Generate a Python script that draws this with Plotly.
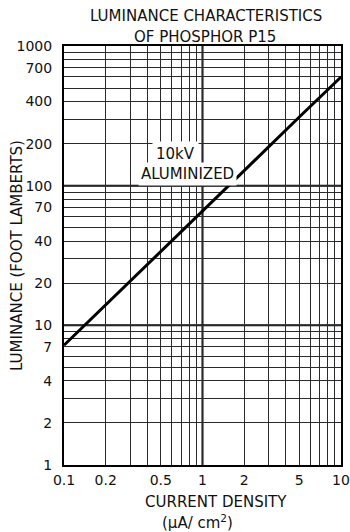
import plotly.graph_objects as go

# ---- data ----
current_density = [0.1, 0.2, 0.5, 1, 2, 5, 10]          # µA/cm²
luminance = [7.2, 14, 34, 65, 128, 310, 600]            # foot lamberts

x_labeled = [0.1, 0.2, 0.5, 1, 2, 5, 10]
y_labeled = [1, 2, 4, 7, 10, 20, 40, 70, 100, 200, 400, 700, 1000]

x_grid = [round(m * d, 6) for d in (0.1, 1) for m in range(1, 10)] + [10]
y_grid = [round(m * d, 6) for d in (1, 10, 100) for m in range(1, 10)] + [1000]
emphasis_x = [1]
emphasis_y = [10, 100]

def fmt(v):
    return ("%g" % v)

x_text = [fmt(v) if v in x_labeled else "" for v in x_grid]
y_text = [fmt(v) if v in y_labeled else "" for v in y_grid]

FONT = "DejaVu Sans"
INK = "#111111"

W, H = 350, 532
PL, PR, PT, PB = 64, 341, 46, 465      # plot frame in pixels
L, T, R, B = PL, PT, W - PR, H - PB
pw, ph = PR - PL, PB - PT

def px(xs):
    return (xs - PL) / pw

def py(ys):
    return (PB - ys) / ph

fig = go.Figure()
fig.add_trace(go.Scatter(
    x=current_density, y=luminance, mode="lines",
    line=dict(color="black", width=3), showlegend=False, hoverinfo="skip"))

axis_common = dict(
    type="log", showgrid=True, gridcolor="#2a2a2a", gridwidth=1,
    showline=True, linecolor="black", linewidth=2, mirror=True,
    ticks="", tickfont=dict(family=FONT, size=14, color=INK),
    zeroline=False, layer="below traces", automargin=False,
    ticklabeloverflow="allow",
)

fig.update_xaxes(range=[-1, 1], tickvals=x_grid, ticktext=x_text,
                 tickangle=0, ticklabelstandoff=1, **axis_common)
fig.update_yaxes(range=[0, 3], tickvals=y_grid, ticktext=y_text,
                 ticklabelstandoff=7, **axis_common)

shapes = []
for v in emphasis_x:
    shapes.append(dict(type="line", xref="x", yref="paper", x0=v, x1=v, y0=0, y1=1,
                       line=dict(color="black", width=2), layer="below"))
for v in emphasis_y:
    shapes.append(dict(type="line", xref="paper", yref="y", x0=0, x1=1, y0=v, y1=v,
                       line=dict(color="black", width=2), layer="below"))

def note(text, x, y, size=14, **kw):
    d = dict(text=text, x=x, y=y, xref="paper", yref="paper", showarrow=False,
             font=dict(family=FONT, size=size, color=INK), xanchor="center", yanchor="middle")
    d.update(kw)
    return d

annotations = [
    note("LUMINANCE CHARACTERISTICS", px(206), py(16), size=15),
    note("OF PHOSPHOR P15", px(205), py(37), size=15),
    note("CURRENT DENSITY", px(216), py(502), size=15),
    note("(µA/ cm<sup>2</sup>)", px(197), py(522), size=15),
    note("LUMINANCE (FOOT LAMBERTS)", px(17), py(256), size=15, textangle=-90),
    note("10kV", px(175), py(154), size=15, bgcolor="white", borderpad=3),
    note("ALUMINIZED", px(187), py(174), size=15, bgcolor="white", borderpad=2),
]

fig.update_layout(
    template="none",
    width=W, height=H,
    margin=dict(l=L, r=R, t=T, b=B, pad=0),
    paper_bgcolor="white", plot_bgcolor="white",
    shapes=shapes, annotations=annotations, showlegend=False,
)

# remove the browser's default page margin so the figure sits at the window origin
fig.write_html("out.html",
               config={"displayModeBar": False},
               post_script="document.body.style.margin='0';document.body.style.overflow='hidden';")
